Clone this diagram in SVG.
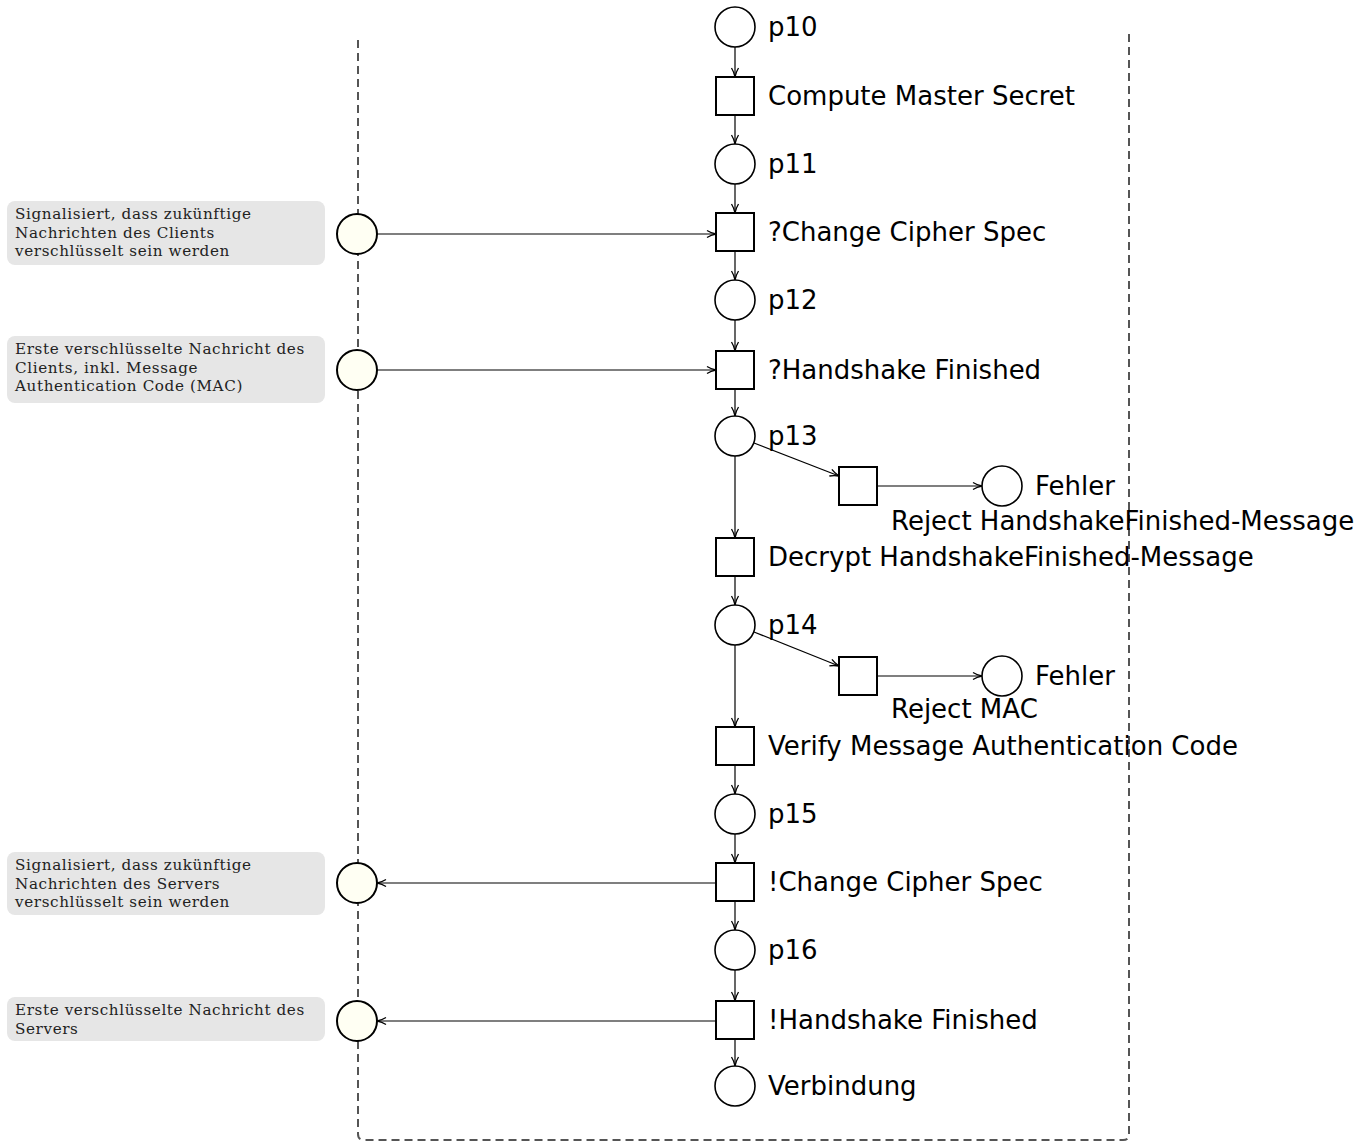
<svg xmlns="http://www.w3.org/2000/svg" width="1367" height="1144" viewBox="0 0 1367 1144">
<style>
.pl{fill:#fff;stroke:#000;stroke-width:1.6}
.tr{fill:#fff;stroke:#000;stroke-width:2}
.ext{fill:#fffff3;stroke:#000;stroke-width:2}
.lbl{font-family:"DejaVu Sans","Liberation Sans",sans-serif;font-size:26px;fill:#000}
.note{fill:#e6e6e6}
.nt{font-family:"DejaVu Serif","Liberation Serif",serif;font-size:15.2px;letter-spacing:0.6px;fill:#222}
.ed{stroke:#000;stroke-width:1.2;fill:none}
.dash{stroke:#555;stroke-width:2;stroke-dasharray:8 5;fill:none}
</style>
<defs>
<marker id="ah" viewBox="0 0 10 10" refX="10" refY="5" markerWidth="10" markerHeight="10" markerUnits="userSpaceOnUse" orient="auto">
<path d="M1,1.5 Q5,4 10,5 Q5,6 1,8.5" fill="none" stroke="#000" stroke-width="1.3"/>
</marker>
</defs>
<g id="boundary">
<path class="dash" d="M358,40 V1134 Q358,1140 364,1140 H1123 Q1129,1140 1129,1134 V30"/>
</g>
<g id="connectors">
<line class="ed" x1="735" y1="47" x2="735" y2="77" marker-end="url(#ah)"/>
<line class="ed" x1="735" y1="115" x2="735" y2="144" marker-end="url(#ah)"/>
<line class="ed" x1="735" y1="184" x2="735" y2="213" marker-end="url(#ah)"/>
<line class="ed" x1="735" y1="251" x2="735" y2="280" marker-end="url(#ah)"/>
<line class="ed" x1="735" y1="320" x2="735" y2="351" marker-end="url(#ah)"/>
<line class="ed" x1="735" y1="389" x2="735" y2="416" marker-end="url(#ah)"/>
<line class="ed" x1="735" y1="456" x2="735" y2="538" marker-end="url(#ah)"/>
<line class="ed" x1="754" y1="443" x2="839" y2="476" marker-end="url(#ah)"/>
<line class="ed" x1="877" y1="486" x2="982" y2="486" marker-end="url(#ah)"/>
<line class="ed" x1="735" y1="576" x2="735" y2="605" marker-end="url(#ah)"/>
<line class="ed" x1="735" y1="645" x2="735" y2="727" marker-end="url(#ah)"/>
<line class="ed" x1="754" y1="632" x2="839" y2="666" marker-end="url(#ah)"/>
<line class="ed" x1="877" y1="676" x2="982" y2="676" marker-end="url(#ah)"/>
<line class="ed" x1="735" y1="765" x2="735" y2="794" marker-end="url(#ah)"/>
<line class="ed" x1="735" y1="834" x2="735" y2="863" marker-end="url(#ah)"/>
<line class="ed" x1="735" y1="901" x2="735" y2="930" marker-end="url(#ah)"/>
<line class="ed" x1="735" y1="970" x2="735" y2="1001" marker-end="url(#ah)"/>
<line class="ed" x1="735" y1="1039" x2="735" y2="1066" marker-end="url(#ah)"/>
<line class="ed" x1="377" y1="234" x2="716" y2="234" marker-end="url(#ah)"/>
<line class="ed" x1="377" y1="370" x2="716" y2="370" marker-end="url(#ah)"/>
<line class="ed" x1="716" y1="883" x2="377" y2="883" marker-end="url(#ah)"/>
<line class="ed" x1="716" y1="1021" x2="377" y2="1021" marker-end="url(#ah)"/>
</g>
<g id="p10"><circle class="pl" cx="735" cy="27" r="20"/><text class="lbl" x="768" y="36">p10</text></g>
<g id="t-compute"><rect class="tr" x="716" y="77" width="38" height="38"/><text class="lbl" x="768" y="105">Compute Master Secret</text></g>
<g id="p11"><circle class="pl" cx="735" cy="164" r="20"/><text class="lbl" x="768" y="173">p11</text></g>
<g id="t-rcvccs"><rect class="tr" x="716" y="213" width="38" height="38"/><text class="lbl" x="768" y="241">?Change Cipher Spec</text></g>
<g id="p12"><circle class="pl" cx="735" cy="300" r="20"/><text class="lbl" x="768" y="309">p12</text></g>
<g id="t-rcvhf"><rect class="tr" x="716" y="351" width="38" height="38"/><text class="lbl" x="768" y="379">?Handshake Finished</text></g>
<g id="p13"><circle class="pl" cx="735" cy="436" r="20"/><text class="lbl" x="768" y="445">p13</text></g>
<g id="t-reject1"><rect class="tr" x="839" y="467" width="38" height="38"/><text class="lbl" x="891" y="530">Reject HandshakeFinished-Message</text></g>
<g id="fehler1"><circle class="pl" cx="1002" cy="486" r="20"/><text class="lbl" x="1035" y="495">Fehler</text></g>
<g id="t-decrypt"><rect class="tr" x="716" y="538" width="38" height="38"/><text class="lbl" x="768" y="566">Decrypt HandshakeFinished-Message</text></g>
<g id="p14"><circle class="pl" cx="735" cy="625" r="20"/><text class="lbl" x="768" y="634">p14</text></g>
<g id="t-reject2"><rect class="tr" x="839" y="657" width="38" height="38"/><text class="lbl" x="891" y="718">Reject MAC</text></g>
<g id="fehler2"><circle class="pl" cx="1002" cy="676" r="20"/><text class="lbl" x="1035" y="685">Fehler</text></g>
<g id="t-verify"><rect class="tr" x="716" y="727" width="38" height="38"/><text class="lbl" x="768" y="755">Verify Message Authentication Code</text></g>
<g id="p15"><circle class="pl" cx="735" cy="814" r="20"/><text class="lbl" x="768" y="823">p15</text></g>
<g id="t-sendccs"><rect class="tr" x="716" y="863" width="38" height="38"/><text class="lbl" x="768" y="891">!Change Cipher Spec</text></g>
<g id="p16"><circle class="pl" cx="735" cy="950" r="20"/><text class="lbl" x="768" y="959">p16</text></g>
<g id="t-sendhf"><rect class="tr" x="716" y="1001" width="38" height="38"/><text class="lbl" x="768" y="1029">!Handshake Finished</text></g>
<g id="verbindung"><circle class="pl" cx="735" cy="1086" r="20"/><text class="lbl" x="768" y="1095">Verbindung</text></g>
<g id="ext1"><circle class="ext" cx="357" cy="234" r="20"/></g>
<g id="ext2"><circle class="ext" cx="357" cy="370" r="20"/></g>
<g id="ext3"><circle class="ext" cx="357" cy="883" r="20"/></g>
<g id="ext4"><circle class="ext" cx="357" cy="1021" r="20"/></g>
<g id="note1"><rect class="note" x="7" y="201" width="318" height="64" rx="8"/>
<text class="nt" x="15" y="219">Signalisiert, dass zukünftige</text>
<text class="nt" x="15" y="237.5">Nachrichten des Clients</text>
<text class="nt" x="15" y="256">verschlüsselt sein werden</text></g>
<g id="note2"><rect class="note" x="7" y="336" width="318" height="67" rx="8"/>
<text class="nt" x="15" y="354">Erste verschlüsselte Nachricht des</text>
<text class="nt" x="15" y="372.5">Clients, inkl. Message</text>
<text class="nt" x="15" y="391">Authentication Code (MAC)</text></g>
<g id="note3"><rect class="note" x="7" y="852" width="318" height="63" rx="8"/>
<text class="nt" x="15" y="870">Signalisiert, dass zukünftige</text>
<text class="nt" x="15" y="888.5">Nachrichten des Servers</text>
<text class="nt" x="15" y="907">verschlüsselt sein werden</text></g>
<g id="note4"><rect class="note" x="7" y="997" width="318" height="44" rx="8"/>
<text class="nt" x="15" y="1015">Erste verschlüsselte Nachricht des</text>
<text class="nt" x="15" y="1033.5">Servers</text></g>
</svg>
